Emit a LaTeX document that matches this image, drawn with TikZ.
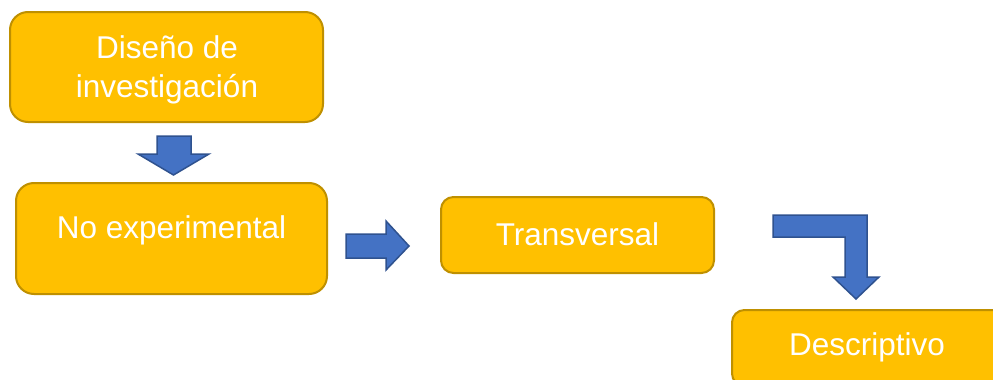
\documentclass[tikz,border=0pt]{standalone}
\usepackage{fontspec}
\setmainfont{Liberation Sans}
\definecolor{boxfill}{HTML}{FFC000}
\definecolor{boxline}{HTML}{BF9000}
\definecolor{arrfill}{HTML}{4472C4}
\definecolor{arrline}{HTML}{2F528F}
\begin{document}
\begin{tikzpicture}[x=1pt,y=-1pt,
  box/.style={draw=boxline, fill=boxfill, line width=2pt, inner sep=0pt},
  txt/.style={text=white, align=center, inner sep=0pt, font=\fontsize{31.5}{39}\selectfont},
  blockarrow/.style={draw=arrline, fill=arrfill, line width=1.5pt, line join=miter}]
\useasboundingbox (0,0) rectangle (993,380);
\clip (0,0) rectangle (993,380);
% boxes
\node[box, rounded corners=18pt, minimum width=313pt, minimum height=110pt] (b1) at (166.5,67) {};
\node[txt] (t1) at (167,70) {Diseño de\\investigación};
\node[box, rounded corners=18pt, minimum width=311pt, minimum height=111pt] (b2) at (171.5,238.5) {};
\node[txt] (t2) at (171.5,230) {No experimental};
\node[box, rounded corners=12.5pt, minimum width=273pt, minimum height=76pt] (b3) at (577.5,235) {};
\node[txt] (t3) at (577.5,234) {Transversal};
\node[box, rounded corners=12.5pt, minimum width=273pt, minimum height=76pt] (b4) at (868.5,348) {};
\node[txt] (t4) at (867,347) {Descriptivo};
% arrows
\draw[blockarrow] (157,136) -- (191,136) -- (191,154) -- (209,154) -- (173.5,175) -- (138,154) -- (157,154) -- cycle;
\draw[blockarrow] (346,234) -- (386,234) -- (386,221) -- (409,246) -- (386,270) -- (386,258) -- (346,258) -- cycle;
\draw[blockarrow] (773,215) -- (867,215) -- (867,277) -- (879,277) -- (856,299) -- (833,277) -- (845,277) -- (845,237) -- (773,237) -- cycle;
\end{tikzpicture}
\end{document}
